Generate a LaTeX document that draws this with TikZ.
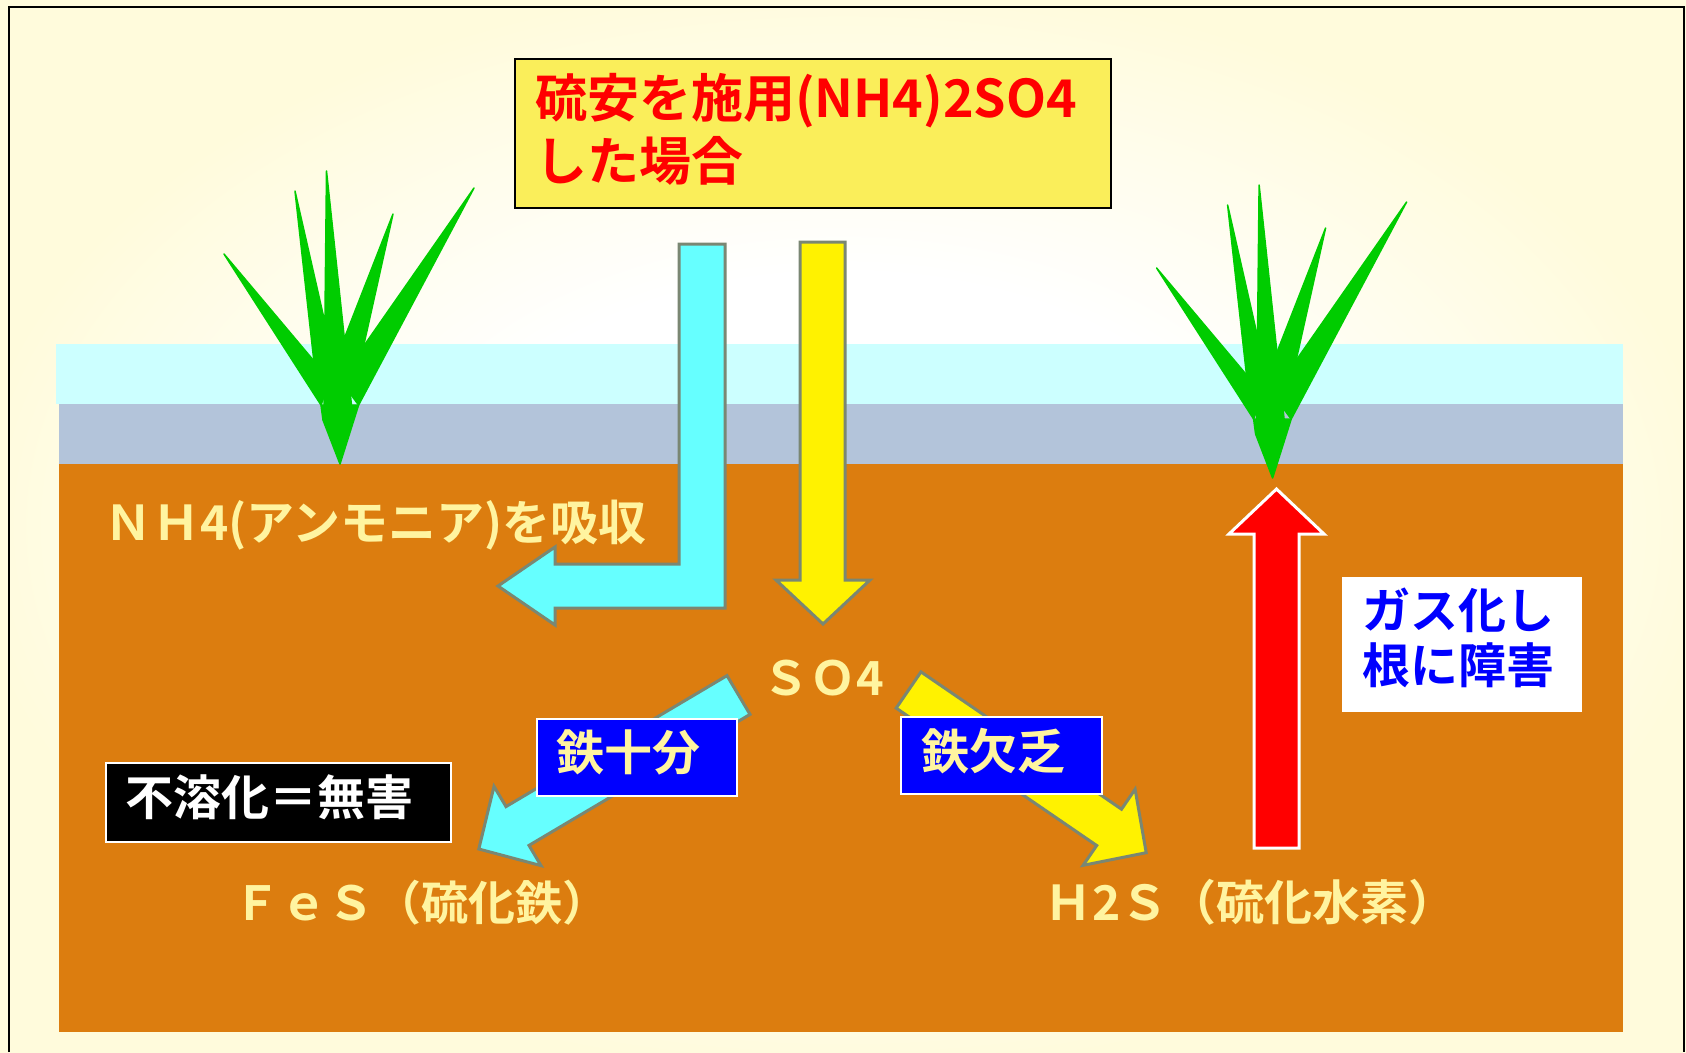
\documentclass[tikz,border=0pt]{standalone}
\usepackage{fontspec}
\usepackage{tikz}

\newfontfamily\jpfont{Noto Sans CJK JP Bold}

\definecolor{cream}{RGB}{255,251,220}
\definecolor{water}{RGB}{204,255,255}
\definecolor{mud}{RGB}{179,196,218}
\definecolor{soil}{RGB}{220,125,15}
\definecolor{grass}{RGB}{0,204,0}
\definecolor{paleyel}{RGB}{255,244,160}
\definecolor{titlefill}{RGB}{250,238,90}
\definecolor{arrgray}{RGB}{122,135,115}
\definecolor{cyanarr}{RGB}{102,255,255}

\pgfdeclareradialshading{paper}{\pgfpoint{0bp}{0bp}}{color(0bp)=(white); color(12bp)=(white); color(26bp)=(cream); color(50bp)=(cream)}

% pushes the text a bit above the box centre
\newcommand\lowstrut{\rule[-14pt]{0pt}{14pt}}

% one rice seedling, origin at the root tip
\tikzset{
  plant/.pic={
    \filldraw[leaf] (-116,-210) -- (-19,-59) -- (-10,-84) -- cycle;
    \filldraw[leaf] (-45,-273) -- (-24,-84) -- (-2,-84) -- cycle;
    \filldraw[leaf] (-13.5,-293) -- (-16,-54) -- (12,-54) -- cycle;
    \filldraw[leaf] (53,-250) -- (-10,-89) -- (16,-84) -- cycle;
    \filldraw[leaf] (134,-276) -- (0,-84) -- (18.6,-59) -- cycle;
    \filldraw[leaf] (-19,-59) -- (-17,-44) -- (0,0) -- (18.6,-59) -- cycle;
  }
}

\begin{document}
\begin{tikzpicture}[x=1pt, y=-1pt,
    leaf/.style={fill=grass, draw=grass, line width=1.5pt, line join=round},
    txt/.style={font=\jpfont\fontsize{47}{56}\selectfont, text=paleyel, inner sep=0pt, anchor=base west},
    tag/.style={anchor=north west, outer sep=0pt, inner xsep=20pt, inner ysep=0pt, align=left,
      line width=2pt, font=\jpfont\fontsize{48}{55}\selectfont},
    bluetag/.style={tag, draw=white, fill=blue, text=paleyel, minimum width=200, minimum height=77.5, text width=160},
    blockarr/.style={draw=arrgray, line width=3pt}
  ]
  \useasboundingbox (0,0) rectangle (1686,1052);
  \shade[shading=paper] (0,0) rectangle (1686,1052);
  \draw[line width=2.5pt] (9,1052) -- (9,7) -- (1684,7) -- (1684,1052);

  % paddy field layers
  \fill[water] (56,344) rectangle (1623,404);
  \fill[mud] (59,404) rectangle (1623,464);
  \fill[soil] (59,464) rectangle (1623,1032);

  \pic at (340,464) {plant};
  \pic at (1272.6,478) {plant};

  \node[tag, draw=black, fill=titlefill, text=red, minimum width=596, minimum height=149, text width=556,
    font=\jpfont\fontsize{52}{63}\selectfont] (title) at (515,59) {硫安を施用(NH4)2SO4\\した場合\lowstrut};

  % fertiliser going down
  \filldraw[blockarr, fill=cyanarr] (679,244) -- (725,244) -- (725,608) -- (555,608) -- (555,625)
    -- (498,586) -- (555,547) -- (555,564) -- (679,564) -- cycle;
  \filldraw[blockarr, fill=yellow] (800,242) -- (845,242) -- (845,580) -- (870,580) -- (823,624)
    -- (776,580) -- (800,580) -- cycle;

  \node[txt, font=\jpfont\fontsize{48}{56}\selectfont] (absorb) at (104,540) {ＮＨ4(アンモニア)を吸収};
  \node[txt] (so4) at (762,695) {ＳＯ4};

  % SO4 splits two ways
  \filldraw[blockarr, fill=cyanarr] (727,675.6) -- (506,806.6) -- (494,786.4) -- (478.8,849)
    -- (541,865.6) -- (529,845.4) -- (750,714.4) -- cycle;
  \filldraw[blockarr, fill=yellow] (921,671.9) -- (1121.5,809.2) -- (1135.1,789.3) -- (1146.2,852.7)
    -- (1083.1,865.3) -- (1096.7,845.5) -- (896.2,708.1) -- cycle;

  \node[bluetag] (ironok) at (536.5,718.5) {鉄十分\lowstrut};
  \node[bluetag, minimum width=200.6] (ironlow) at (901,716.7) {鉄欠乏\lowstrut};
  \node[tag, draw=white, fill=black, text=white, minimum width=345, minimum height=78.4, text width=305]
    (harmless) at (105.8,763.3) {不溶化＝無害\lowstrut};

  \node[txt] (fes) at (233,920) {ＦｅＳ（硫化鉄）};
  \node[txt, font=\jpfont\fontsize{48}{56}\selectfont] (h2s) at (1044,920) {Ｈ2Ｓ（硫化水素）};

  % gas rising to the roots
  \filldraw[fill=red, draw=white, line width=3pt] (1254,848) -- (1254,534) -- (1229,534) -- (1276.5,489)
    -- (1324,534) -- (1299,534) -- (1299,848) -- cycle;
  \node[tag, fill=white, text=blue, minimum width=240, minimum height=134.4, text width=200]
    (gasroot) at (1342,577.4) {ガス化し\\根に障害\rule[-17pt]{0pt}{17pt}};
\end{tikzpicture}
\end{document}
